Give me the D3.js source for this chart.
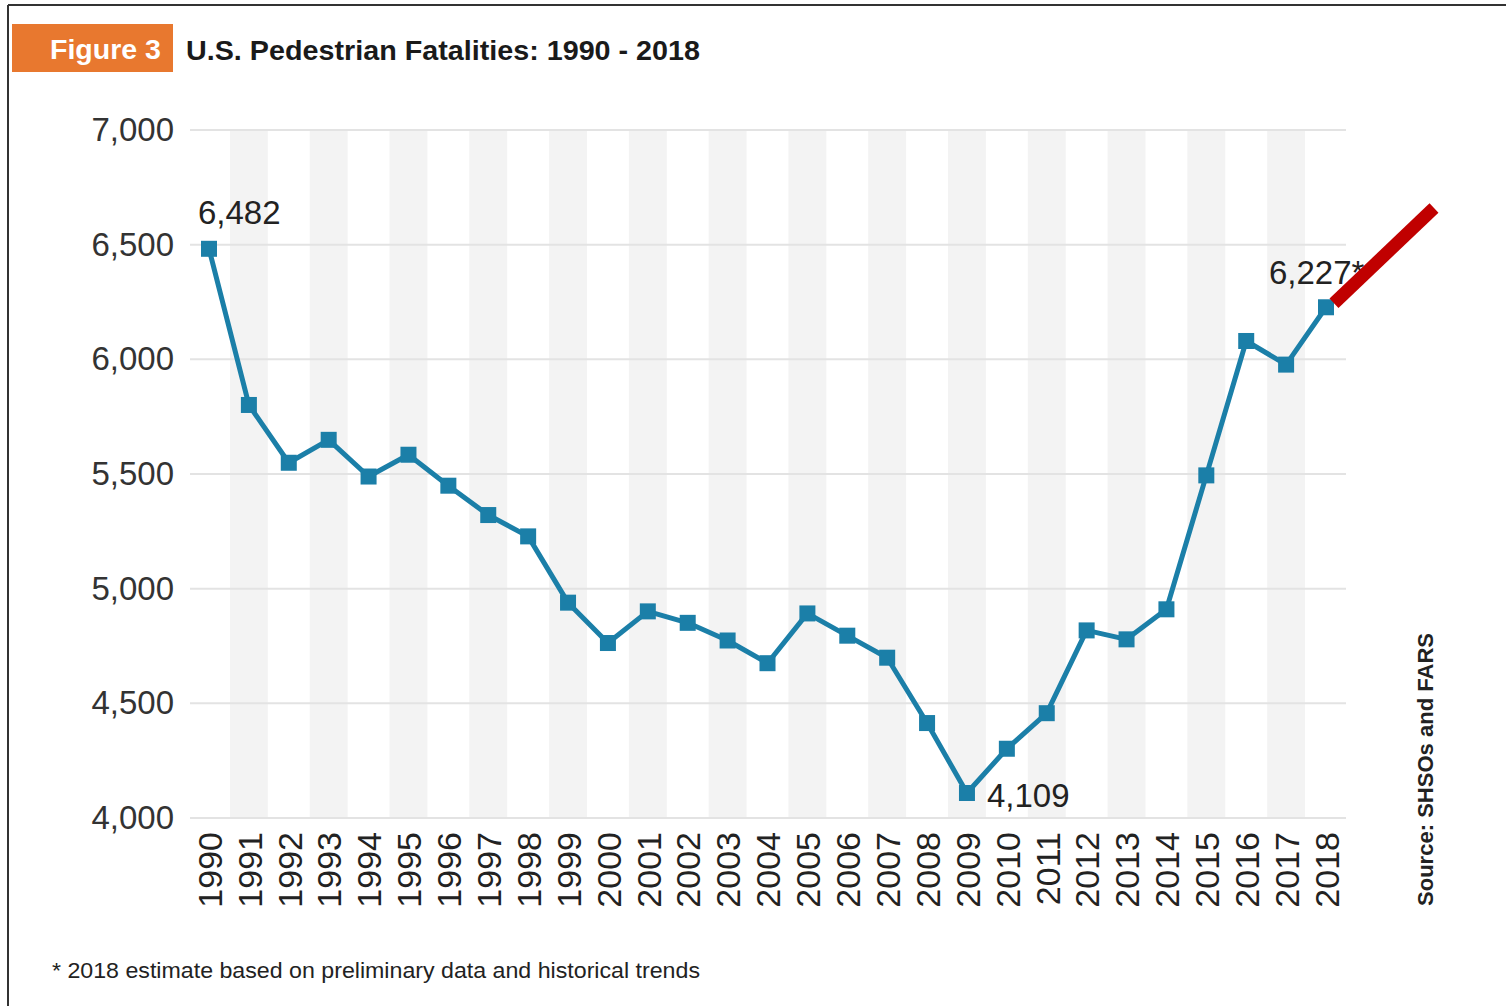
<!DOCTYPE html>
<html>
<head>
<meta charset="utf-8">
<script src="https://cdn.jsdelivr.net/npm/d3@7"></script>
<style>
  html, body { margin: 0; padding: 0; background: #fff; }
  svg { display: block; }
  text { font-family: "Liberation Sans", Arial, Helvetica, sans-serif; }
</style>
</head>
<body>
<svg id="chart" width="1506" height="1006"></svg>
<script>
const years = [1990,1991,1992,1993,1994,1995,1996,1997,1998,1999,2000,2001,2002,2003,2004,2005,2006,2007,2008,2009,2010,2011,2012,2013,2014,2015,2016,2017,2018];
const fatalities = [6482,5801,5549,5649,5489,5584,5449,5321,5228,4939,4763,4901,4851,4774,4675,4892,4795,4699,4414,4109,4302,4457,4818,4779,4910,5494,6080,5977,6227];
const yTicks = [4000,4500,5000,5500,6000,6500,7000];
const annotations = [
  {year: 1990, text: "6,482"},
  {year: 2009, text: "4,109"},
  {year: 2018, text: "6,227*"}
];
const titleBadge = "Figure 3";
const titleText = "U.S. Pedestrian Fatalities: 1990 - 2018";
const footnote = "* 2018 estimate based on preliminary data and historical trends";
const sourceText = "Source: SHSOs and FARS";

const svg = d3.select("#chart");

// frame border (top and left)
svg.append("line").attr("x1", 8).attr("x2", 1506).attr("y1", 5).attr("y2", 5)
  .attr("stroke", "#333").attr("stroke-width", 2);
svg.append("line").attr("x1", 8).attr("x2", 8).attr("y1", 5).attr("y2", 1006)
  .attr("stroke", "#333").attr("stroke-width", 2);

// title
svg.append("rect").attr("x", 12).attr("y", 24).attr("width", 161).attr("height", 48)
  .attr("fill", "#e8782f");
svg.append("text").attr("x", 161).attr("y", 59).attr("text-anchor", "end")
  .attr("font-size", 27).attr("font-weight", "bold").attr("fill", "#fff")
  .attr("textLength", 111).attr("lengthAdjust", "spacingAndGlyphs").text(titleBadge);
svg.append("text").attr("x", 186).attr("y", 60)
  .attr("font-size", 28).attr("font-weight", "bold").attr("fill", "#1a1a1a")
  .attr("textLength", 514).attr("lengthAdjust", "spacingAndGlyphs").text(titleText);

const x = d3.scaleLinear().domain([1990, 2018]).range([209, 1326]);
const y = d3.scaleLinear().domain([4000, 7000]).range([818, 130]);
const step = x(1991) - x(1990);

// alternating bands
svg.append("g").selectAll("rect")
  .data(years.filter(d => d % 2 === 1))
  .join("rect")
  .attr("x", d => x(d) - step / 2 + 1)
  .attr("width", step - 2)
  .attr("y", y(7000))
  .attr("height", y(4000) - y(7000))
  .attr("fill", "#f3f3f3");

// horizontal gridlines
svg.append("g").selectAll("line")
  .data(yTicks)
  .join("line")
  .attr("x1", 190).attr("x2", 1346)
  .attr("y1", d => y(d)).attr("y2", d => y(d))
  .attr("stroke", "#e3e3e3").attr("stroke-width", 2);

// y axis
const yAxis = d3.axisLeft(y).tickValues(yTicks).tickSize(0).tickPadding(0)
  .tickFormat(d3.format(","));
const gy = svg.append("g").attr("transform", "translate(174,0)").call(yAxis);
gy.select(".domain").remove();
gy.selectAll("text").attr("font-size", 33).attr("fill", "#333")
  .attr("font-family", "'Liberation Sans', Arial, sans-serif");

// x axis (rotated year labels)
const xAxis = d3.axisBottom(x).tickValues(years).tickSize(0).tickPadding(0)
  .tickFormat(d3.format("d"));
const gx = svg.append("g").attr("transform", "translate(0,832)").call(xAxis);
gx.select(".domain").remove();
gx.selectAll("text")
  .attr("font-size", 34).attr("fill", "#222")
  .attr("font-family", "'Liberation Sans', Arial, sans-serif")
  .attr("text-anchor", "end")
  .attr("transform", "rotate(-90)")
  .attr("x", 0).attr("y", 0).attr("dy", "0.36em");

// line
const line = d3.line().x((d, i) => x(years[i])).y(d => y(d));
svg.append("path").datum(fatalities)
  .attr("d", line).attr("fill", "none")
  .attr("stroke", "#1b7fa8").attr("stroke-width", 5).attr("stroke-linejoin", "round");

// markers
const ms = 16;
svg.append("g").selectAll("rect")
  .data(fatalities)
  .join("rect")
  .attr("x", (d, i) => x(years[i]) - ms / 2)
  .attr("y", d => y(d) - ms / 2)
  .attr("width", ms).attr("height", ms)
  .attr("fill", "#1b7fa8");

// annotations
const val = yr => fatalities[years.indexOf(yr)];
const annPos = {
  1990: {dx: -11, dy: -25, anchor: "start"},
  2009: {dx: 20, dy: 14, anchor: "start"},
  2018: {dx: -57, dy: -23, anchor: "start"}
};
svg.append("g").selectAll("text")
  .data(annotations)
  .join("text")
  .attr("x", d => x(d.year) + annPos[d.year].dx)
  .attr("y", d => y(val(d.year)) + annPos[d.year].dy)
  .attr("text-anchor", d => annPos[d.year].anchor)
  .attr("font-size", 33).attr("fill", "#222")
  .text(d => d.text);

// red arrow stroke
svg.append("line")
  .attr("x1", x(2018) + 8).attr("y1", y(val(2018)) - 4)
  .attr("x2", 1434).attr("y2", 208)
  .attr("stroke", "#c00000").attr("stroke-width", 13);

// source (rotated)
svg.append("text")
  .attr("transform", "translate(1433,906) rotate(-90)")
  .attr("font-size", 22).attr("font-weight", "bold").attr("fill", "#222")
  .attr("textLength", 273).attr("lengthAdjust", "spacingAndGlyphs")
  .text(sourceText);

// footnote
svg.append("text").attr("x", 52).attr("y", 978)
  .attr("font-size", 22).attr("fill", "#222")
  .attr("textLength", 648).attr("lengthAdjust", "spacingAndGlyphs").text(footnote);
</script>
</body>
</html>
